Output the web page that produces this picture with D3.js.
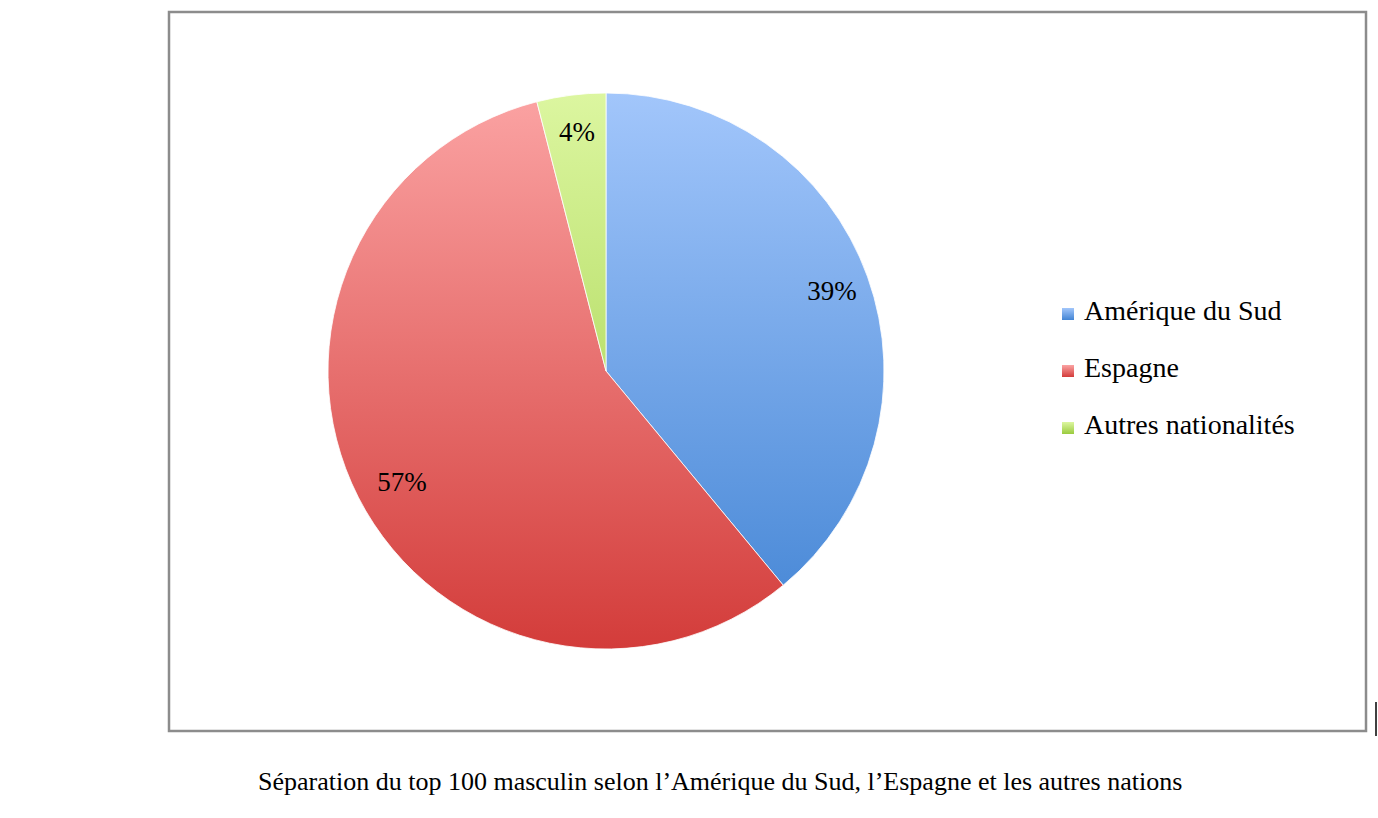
<!DOCTYPE html>
<html><head><meta charset="utf-8">
<script src="https://cdn.jsdelivr.net/npm/d3@7"></script>
<style>body{margin:0;background:#fff}svg{display:block}</style>
</head><body>
<script>
var categories = ['Amérique du Sud', 'Espagne', 'Autres nationalités']
var values = [39, 57, 4]
var labels = ['39%', '57%', '4%']
var colorsLight = ['#a2c6fb', '#fba3a3', '#dcf6a0']
var colorsDark = ['#4284d4', '#d33c3a', '#9acb3e']
var caption = 'Séparation du top 100 masculin selon l’Amérique du Sud, l’Espagne et les autres nations'

var W = 1378, H = 818, cx = 606, cy = 371, r = 278
var font = '"Liberation Serif", "Times New Roman", serif'

var svg = d3.select('body').append('svg').attr('width', W).attr('height', H)
var defs = svg.append('defs')
categories.forEach((c, i) => {
  var g = defs.append('linearGradient').attr('id', 'g' + i)
    .attr('gradientUnits', 'userSpaceOnUse')
    .attr('x1', 0).attr('y1', -r).attr('x2', 0).attr('y2', r)
  g.append('stop').attr('offset', 0).attr('stop-color', colorsLight[i])
  g.append('stop').attr('offset', 1).attr('stop-color', colorsDark[i])
  var lg = defs.append('linearGradient').attr('id', 'l' + i)
    .attr('x1', 0).attr('y1', 0).attr('x2', 0).attr('y2', 1)
  lg.append('stop').attr('offset', 0).attr('stop-color', colorsLight[i])
  lg.append('stop').attr('offset', 1).attr('stop-color', colorsDark[i])
})

svg.append('rect').attr('x', 169).attr('y', 12).attr('width', 1197).attr('height', 719)
  .attr('fill', 'none').attr('stroke', '#8c8c8c').attr('stroke-width', 2.5)
svg.append('line').attr('x1', 1376).attr('x2', 1376).attr('y1', 702).attr('y2', 736)
  .attr('stroke', '#000').attr('stroke-width', 1.5)

var pie = d3.pie().sort(null).value(d => d)
var arcs = pie(values)
var arc = d3.arc().innerRadius(0).outerRadius(r)
var g = svg.append('g').attr('transform', `translate(${cx},${cy})`)
g.selectAll('path').data(arcs).join('path')
  .attr('d', arc).attr('fill', (d, i) => `url(#g${i})`)
  .attr('stroke', '#fff').attr('stroke-width', 0.8)

var labelPos = [[226, -77], [-204, 114], [-29, -236]]
g.selectAll('text').data(arcs).join('text')
  .attr('x', (d, i) => labelPos[i][0]).attr('y', (d, i) => labelPos[i][1])
  .attr('text-anchor', 'middle').attr('dominant-baseline', 'middle')
  .attr('font-family', font).attr('font-size', 27).text((d, i) => labels[i])

var leg = svg.append('g').selectAll('g').data(categories).join('g')
  .attr('transform', (d, i) => `translate(1062,${314 + i * 57})`)
leg.append('rect').attr('x', 0).attr('y', -6).attr('width', 12).attr('height', 12)
  .attr('fill', (d, i) => `url(#l${i})`)
leg.append('text').attr('x', 22).attr('y', 0).attr('dominant-baseline', 'middle')
  .attr('font-family', font).attr('font-size', 28).text(d => d)

svg.append('text').attr('x', 258).attr('y', 790)
  .attr('font-family', font).attr('font-size', 26).text(caption)
</script>
</body></html>
